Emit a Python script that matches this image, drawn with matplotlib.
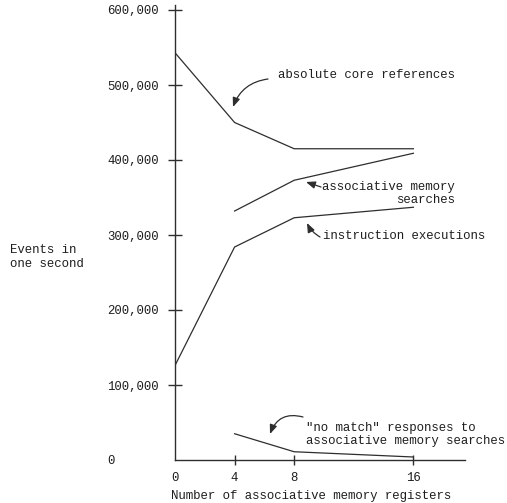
import matplotlib
matplotlib.use("Agg")
import matplotlib.pyplot as plt

# ---- data ----
x_core = [0, 4, 8, 16]
core_refs = [543000, 450000, 415000, 415000]
x_assoc = [4, 8, 16]
assoc_searches = [332000, 373000, 409000]
x_instr = [0, 4, 8, 16]
instr_exec = [126000, 284000, 323000, 337000]
x_nomatch = [4, 8, 16]
no_match = [35000, 11000, 4000]

x_ticks = [0, 4, 8, 16]
x_ticklabels = ["0", "4", "8", "16"]
y_ticks = [0, 100000, 200000, 300000, 400000, 500000, 600000]
y_ticklabels = ["0", "100,000", "200,000", "300,000", "400,000", "500,000", "600,000"]

FONT = "Liberation Mono"
FS = 8.9
TXT = "#1e1e1e"
LN = "#2e2e2e"

plt.rcParams['font.family'] = [FONT, 'DejaVu Sans']

fig = plt.figure(figsize=(5.07, 5.03), dpi=100)
ax = fig.add_axes([175/507, 1 - 460/503, 290/507, 455/503])

for xs, ys in [(x_core, core_refs), (x_assoc, assoc_searches),
               (x_instr, instr_exec), (x_nomatch, no_match)]:
    ax.plot(xs, ys, color=LN, lw=0.9, solid_joinstyle='miter')

ax.set_xlim(0, 290/14.9)
ax.set_ylim(0, 455/75*100000)

for s in ['top', 'right']:
    ax.spines[s].set_visible(False)
for s in ['left', 'bottom']:
    ax.spines[s].set_linewidth(1.0)
    ax.spines[s].set_color(LN)

ax.set_xticks(x_ticks)
ax.set_xticklabels(x_ticklabels, fontsize=FS, color=TXT, family=FONT)
ax.set_yticks(y_ticks)
ax.set_yticklabels(y_ticklabels, fontsize=FS, color=TXT, family=FONT, ha='left')
ax.tick_params(axis='y', direction='inout', length=10, width=1.0, color=LN, pad=44)
ax.tick_params(axis='x', direction='inout', length=7, width=1.0, color=LN, pad=5)
ax.xaxis.get_major_ticks()[0].tick1line.set_visible(False)
ax.yaxis.get_major_ticks()[0].tick1line.set_visible(False)

ax.set_xlabel("Number of associative memory registers", fontsize=FS, color=TXT,
              family=FONT, ha='left', va='center')
ax.xaxis.set_label_coords(-4/290, -36/455)

fig.text(10/507, 1 - 257/503, "Events in\none second", fontsize=FS, color=TXT,
         family=FONT, ha='left', va='center', linespacing=1.3)

def px(xp, yp):
    return ((xp - 175) / 14.9, (460 - yp) / 75 * 100000)

arrowkw = dict(arrowstyle='-|>,head_length=0.55,head_width=0.22', color=LN, lw=0.9,
               shrinkA=0, shrinkB=0)

# absolute core references
ax.text(*px(278, 75), "absolute core references", fontsize=FS, color=TXT,
        family=FONT, ha='left', va='center')
ax.annotate("", xy=px(233, 107), xytext=px(268, 79),
            arrowprops=dict(connectionstyle="arc3,rad=0.3", **arrowkw))

# associative memory searches
ax.text(*px(455, 193.5), "associative memory\nsearches", fontsize=FS, color=TXT,
        family=FONT, ha='right', va='center', multialignment='right', linespacing=1.2)
ax.annotate("", xy=px(306, 182), xytext=px(321, 187),
            arrowprops=dict(connectionstyle="arc3,rad=0.0", **arrowkw))

# instruction executions
ax.text(*px(323, 236), "instruction executions", fontsize=FS, color=TXT,
        family=FONT, ha='left', va='center')
ax.annotate("", xy=px(307, 223), xytext=px(320, 237),
            arrowprops=dict(connectionstyle="arc3,rad=-0.15", **arrowkw))

# no match
ax.text(*px(306, 434.5), "\"no match\" responses to\nassociative memory searches",
        fontsize=FS, color=TXT, family=FONT, ha='left', va='center', linespacing=1.2)
ax.annotate("", xy=px(270, 434), xytext=px(303, 417),
            arrowprops=dict(connectionstyle="arc3,rad=0.45", **arrowkw))

fig.savefig("out.png", dpi=100)
